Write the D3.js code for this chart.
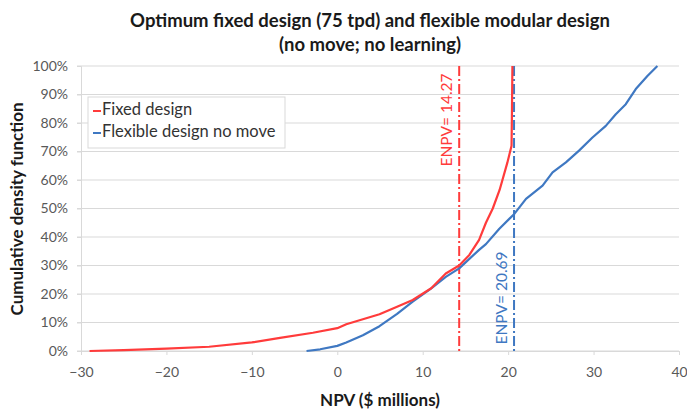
<!DOCTYPE html>
<html>
<head>
<meta charset="utf-8">
<script src="https://cdn.jsdelivr.net/npm/d3@7"></script>
<style>
  html, body { margin: 0; padding: 0; background: #fff; }
  svg { display: block; font-family: Lato, "Open Sans", sans-serif; }
</style>
</head>
<body>
<svg id="chart" width="687" height="413"></svg>
<script>
// NPV (x, $ millions) and cumulative probability (y, %) for each design
const fixedNpv   = [-29, -25, -20, -15, -10, -6.7, -2.85, 0, 1.05, 4.94, 7.0, 8.83, 11, 12.7, 14.27, 15.46, 16.6, 17.4, 18.2, 19.0, 19.9, 20.4, 20.45, 20.5];
const fixedCdf   = [0, 0.3, 0.8, 1.5, 3.0, 4.6, 6.4, 8.0, 9.4, 12.9, 15.5, 17.9, 22, 27.2, 30, 33.7, 39, 45, 50, 56.5, 66, 72, 85, 100];
const flexNpv    = [-3.6, -2, 0, 1.05, 3.0, 4.94, 7.0, 8.83, 11, 12.7, 14.27, 16.6, 17.4, 18.97, 20.72, 22.09, 24.03, 25.2, 26.76, 28.3, 29.87, 31.43, 32.6, 33.77, 34.94, 36.3, 37.47];
const flexCdf    = [0, 0.6, 1.8, 3.0, 5.5, 8.7, 13, 17.3, 22, 26, 29, 35.5, 37.5, 42.9, 48.1, 53.4, 58, 62.7, 66.2, 70.3, 74.9, 79, 83.1, 86.6, 91.9, 96.5, 100];

const seriesNames = ["Fixed design", "Flexible design no move"];
const enpvValues  = [14.27, 20.69];
const xTicks = [-30, -20, -10, 0, 10, 20, 30, 40];
const yTicks = [0, 10, 20, 30, 40, 50, 60, 70, 80, 90, 100];

const titleLines = ["Optimum fixed design (75 tpd) and flexible modular design", "(no move; no learning)"];
const xTitle = "NPV ($ millions)";
const yTitle = "Cumulative density function";

const colors = { fixed: "#ff3b3b", flex: "#3f78c2" };

const svg = d3.select("#chart");
const margin = { left: 81, right: 8, top: 66, bottom: 62 };
const W = 687, H = 413;

const x = d3.scaleLinear().domain([-30, 40]).range([margin.left, W - margin.right]);
const y = d3.scaleLinear().domain([0, 100]).range([H - margin.bottom, margin.top]);

// Horizontal gridlines
svg.append("g")
  .selectAll("line")
  .data(yTicks)
  .join("line")
  .attr("x1", x(-30) - 4).attr("x2", x(40))
  .attr("y1", d => y(d)).attr("y2", d => y(d))
  .attr("stroke", "#d9d9d9").attr("stroke-width", 1);

// Y axis
const yAxis = svg.append("g")
  .attr("transform", `translate(${x(-30)},0)`)
  .call(d3.axisLeft(y).tickValues(yTicks).tickFormat(d => d + "%").tickSize(4).tickPadding(9));
yAxis.select(".domain").attr("stroke", "#d9d9d9");
yAxis.selectAll(".tick line").attr("stroke", "#d9d9d9");
yAxis.selectAll("text").attr("fill", "#595959").style("font-size", "14px").style("font-family", "Lato, sans-serif");

// X axis
const xAxis = svg.append("g")
  .attr("transform", `translate(0,${y(0)})`)
  .call(d3.axisBottom(x).tickValues(xTicks).tickFormat(d3.format("d")).tickSize(4).tickPadding(12));
xAxis.select(".domain").attr("stroke", "#d9d9d9");
xAxis.selectAll(".tick line").attr("stroke", "#d9d9d9");
xAxis.selectAll("text").attr("fill", "#595959").style("font-size", "14px").style("font-family", "Lato, sans-serif");

// ENPV reference lines
const enpvColors = [colors.fixed, colors.flex];
svg.append("g")
  .selectAll("line")
  .data(enpvValues)
  .join("line")
  .attr("x1", d => x(d)).attr("x2", d => x(d))
  .attr("y1", y(100)).attr("y2", y(0))
  .attr("stroke", (d, i) => enpvColors[i])
  .attr("stroke-width", 2)
  .attr("stroke-dasharray", "10,3,2,3");

// CDF curves
const line = d3.line().x(d => x(d[0])).y(d => y(d[1]));
const fixedPts = fixedNpv.map((v, i) => [v, fixedCdf[i]]);
const flexPts = flexNpv.map((v, i) => [v, flexCdf[i]]);

svg.append("path").datum(flexPts)
  .attr("d", line).attr("fill", "none")
  .attr("stroke", colors.flex).attr("stroke-width", 2.2).attr("stroke-linejoin", "round");
svg.append("path").datum(fixedPts)
  .attr("d", line).attr("fill", "none")
  .attr("stroke", colors.fixed).attr("stroke-width", 2.2).attr("stroke-linejoin", "round");

// ENPV labels, rotated along the reference lines
const enpvLabelY = [120, 298];
enpvValues.forEach((v, i) => {
  svg.append("text")
    .attr("transform", `translate(${x(v) - 11},${enpvLabelY[i]}) rotate(-90)`)
    .attr("text-anchor", "middle")
    .attr("dominant-baseline", "middle")
    .attr("fill", enpvColors[i])
    .style("font-size", "15.5px")
    .text("ENPV= " + v.toFixed(2));
});

// Legend
const legend = svg.append("g").attr("transform", "translate(88,97)");
legend.append("rect")
  .attr("width", 197).attr("height", 51)
  .attr("fill", "#fff").attr("stroke", "#d9d9d9");
[colors.fixed, colors.flex].forEach((c, i) => {
  const gy = 14 + i * 22;
  legend.append("line")
    .attr("x1", 5).attr("x2", 13).attr("y1", gy).attr("y2", gy)
    .attr("stroke", c).attr("stroke-width", 2);
  legend.append("text")
    .attr("x", 14).attr("y", gy)
    .attr("dominant-baseline", "middle")
    .attr("fill", "#333")
    .style("font-size", "16.5px")
    .text(seriesNames[i]);
});

// Title
titleLines.forEach((t, i) => {
  svg.append("text")
    .attr("x", 370).attr("y", 27 + i * 24)
    .attr("text-anchor", "middle")
    .attr("fill", "#1a1a1a")
    .style("font-size", "18.5px").style("font-weight", "bold")
    .text(t);
});

// Axis titles
svg.append("text")
  .attr("x", 380).attr("y", 406)
  .attr("text-anchor", "middle")
  .attr("fill", "#1a1a1a")
  .style("font-size", "17px").style("font-weight", "bold")
  .text(xTitle);
svg.append("text")
  .attr("transform", "translate(23,209) rotate(-90)")
  .attr("text-anchor", "middle")
  .attr("fill", "#1a1a1a")
  .style("font-size", "17px").style("font-weight", "bold")
  .text(yTitle);
</script>
</body>
</html>
